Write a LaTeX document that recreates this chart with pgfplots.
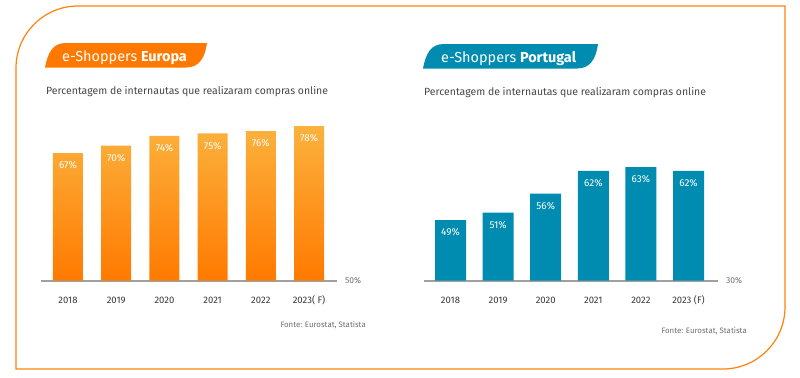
\documentclass[border=0pt]{standalone}
\usepackage{pgfplots}
\pgfplotsset{compat=1.18}
\usepackage{fontspec}
\setmainfont{Fira Sans}
\definecolor{frameor}{RGB}{255,130,10}
\definecolor{badgeor}{RGB}{255,121,0}
\definecolor{teal}{RGB}{0,140,176}
\definecolor{bartop}{RGB}{251,178,62}
\definecolor{barbot}{RGB}{255,122,0}
\definecolor{txt}{RGB}{70,70,70}
\definecolor{yr}{RGB}{55,55,55}
\definecolor{src}{RGB}{110,110,110}
\definecolor{baseln}{RGB}{160,160,160}
\begin{document}
\begin{tikzpicture}[x=1bp,y=1bp]
\path[use as bounding box] (0,0) rectangle (800,377);
\begin{scope}[shift={(0,377)},y=-1bp]
% frame
\draw[frameor,line width=1.2bp] (16,369) -- (16,68) .. controls (16,33.8) and (43.8,6) .. (78,6) -- (785,6) -- (785,307) .. controls (785,341.2) and (757.2,369) .. (723,369) -- cycle;
% badges
\fill[badgeor] (45,67.5) .. controls (48,52) and (53,43) .. (66,43) -- (207,43) .. controls (205,58) and (199,67.5) .. (186,67.5) -- cycle;
\node[anchor=base west,text=white,font=\fontsize{14.5}{16}\selectfont,inner sep=0] at (62,61) {e-Shoppers \textbf{Europa}};
\fill[teal] (423,68.5) .. controls (426,53) and (431,44) .. (444,44) -- (598,44) .. controls (596,59) and (590,68.5) .. (577,68.5) -- cycle;
\node[anchor=base west,text=white,font=\fontsize{14.5}{16}\selectfont,inner sep=0] at (441,62) {e-Shoppers \textbf{Portugal}};
% subtitles
\node[anchor=west,text=txt,font=\fontsize{10.5}{12}\selectfont,inner sep=0] at (46,92) {Percentagem de internautas que realizaram compras online};
\node[anchor=west,text=txt,font=\fontsize{10.5}{12}\selectfont,inner sep=0] at (424,93) {Percentagem de internautas que realizaram compras online};
% sources
\node[anchor=east,text=src,font=\fontsize{7.9}{9}\selectfont,inner sep=0] at (366,325) {Fonte: Eurostat, Statista};
\node[anchor=east,text=src,font=\fontsize{7.9}{9}\selectfont,inner sep=0] at (747,331) {Fonte: Eurostat, Statista};
\end{scope}
\pgfplotsset{every axis/.append style={/pgf/number format/assume math mode=true}}
% Europa
\begin{axis}[
  at={(41bp,96.3bp)}, anchor=south west,
  scale only axis, width=296bp, height=160bp,
  xmin=-0.56, xmax=5.58, ymin=15, ymax=80.2,
  axis x line*=bottom, axis y line=none,
  x axis line style={draw=baseln,line width=1.6bp,-},
  xtick={0,1,2,3,4,5},
  xticklabels={2018,2019,2020,2021,2022,2023( F)},
  major tick length=0pt,
  xticklabel style={font=\fontsize{9.5}{11}\selectfont,text=yr,anchor=base,yshift=-23bp},
  ytick=\empty,
  clip=false,
]
\addplot[ybar,bar width=30bp,draw=none,top color=bartop,bottom color=barbot,
  nodes near coords={\pgfmathprintnumber[assume math mode=true]{\pgfplotspointmeta}\%},
  every node near coord/.append style={anchor=north,yshift=-5bp,text=white,font=\fontsize{10}{11}\selectfont}]
  coordinates {(0,67) (1,70) (2,74) (3,75) (4,76) (5,78)};
\node[anchor=west,text=src,font=\fontsize{8.5}{10}\selectfont,inner sep=0] at (rel axis cs:1,0) [xshift=8bp] {50\%};
\end{axis}
% Portugal
\begin{axis}[
  at={(424bp,96.3bp)}, anchor=south west,
  scale only axis, width=294bp, height=160bp,
  xmin=-0.557, xmax=5.62, ymin=33, ymax=75.26,
  axis x line*=bottom, axis y line=none,
  x axis line style={draw=baseln,line width=1.6bp,-},
  xtick={0,1,2,3,4,5},
  xticklabels={2018,2019,2020,2021,2022,2023 (F)},
  major tick length=0pt,
  xticklabel style={font=\fontsize{9.5}{11}\selectfont,text=yr,anchor=base,yshift=-23bp},
  ytick=\empty,
  clip=false,
]
\addplot[ybar,bar width=31bp,draw=none,fill=teal,
  nodes near coords={\pgfmathprintnumber[assume math mode=true]{\pgfplotspointmeta}\%},
  every node near coord/.append style={anchor=north,yshift=-5bp,text=white,font=\fontsize{10}{11}\selectfont}]
  coordinates {(0,49) (1,51) (2,56) (3,62) (4,63) (5,62)};
\node[anchor=west,text=src,font=\fontsize{8.5}{10}\selectfont,inner sep=0] at (rel axis cs:1,0) [xshift=8bp] {30\%};
\end{axis}
\end{tikzpicture}
\end{document}
